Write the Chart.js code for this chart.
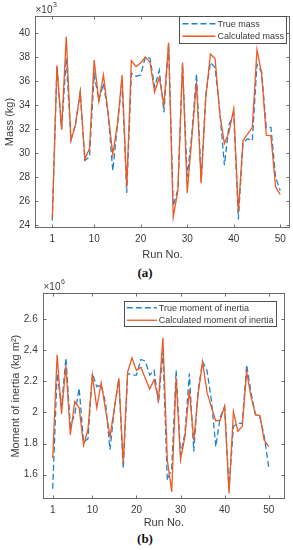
<!DOCTYPE html>
<html>
<head>
<meta charset="utf-8">
<script src="https://cdn.jsdelivr.net/npm/chart.js@4/dist/chart.umd.min.js"></script>
<style>
html, body { margin: 0; padding: 0; background: #fff; }
body { width: 293px; height: 550px; position: relative; overflow: hidden; }
.wrap { position: absolute; left: 0; width: 293px; }
.cap { position: absolute; left: 0; width: 290px; text-align: center; font: bold 13px "Liberation Serif", "Times New Roman", serif; color: #111; line-height: 15px; }
</style>
</head>
<body>
<div class="wrap" style="top:0;height:262px"><canvas id="massChart"></canvas></div>
<div class="cap" style="top:265px">(a)</div>
<div class="wrap" style="top:278px;height:252px"><canvas id="inertiaChart"></canvas></div>
<div class="cap" style="top:531px">(b)</div>
<script>
// Run numbers (x axis)
const runs = [1, 2, 3, 4, 5, 6, 7, 8, 9, 10, 11, 12, 13, 14, 15, 16, 17, 18, 19, 20,
    21, 22, 23, 24, 25, 26, 27, 28, 29, 30, 31, 32, 33, 34, 35, 36, 37, 38, 39, 40,
    41, 42, 43, 44, 45, 46, 47, 48, 49, 50];

// Mass, x10^3 kg
const trueMass = [24.4, 37.2, 32.0, 37.9, 31.1, 32.4, 35.1, 29.4, 29.7, 36.6,
    34.4, 35.8, 33.3, 28.55, 32.3, 36.0, 26.7, 36.65, 36.4, 36.5,
    38.0, 37.9, 35.5, 36.9, 33.4, 39.1, 25.6, 27.0, 37.4, 28.0,
    31.6, 36.6, 27.7, 34.9, 37.55, 37.1, 33.5, 29.0, 32.4, 33.3,
    24.5, 30.9, 31.2, 31.05, 37.4, 36.75, 32.15, 32.15, 28.0, 26.9];
const calcMass = [24.6, 37.3, 31.96, 39.7, 31.05, 32.4, 35.1, 29.5, 30.4, 37.75,
    34.3, 36.5, 33.3, 29.9, 32.4, 36.5, 27.2, 37.7, 37.2, 37.5,
    38.0, 37.55, 35.1, 36.3, 34.0, 39.2, 24.7, 26.9, 37.55, 26.7,
    31.3, 35.9, 27.5, 34.65, 38.25, 37.85, 33.3, 30.8, 31.75, 33.7,
    25.1, 31.05, 31.6, 32.15, 38.6, 36.6, 31.5, 31.45, 27.2, 26.55];

// Moment of inertia, x10^6 kg m^2
const trueInertia = [1.51, 2.25, 2.04, 2.35, 1.91, 1.99, 2.155, 1.81, 1.83, 2.25,
    2.165, 2.175, 2.06, 1.76, 2.03, 2.21, 1.64, 2.25, 2.24, 2.24,
    2.34, 2.33, 2.24, 2.27, 2.06, 2.39, 1.565, 1.64, 2.27, 1.73,
    1.865, 2.25, 1.75, 2.145, 2.325, 2.27, 2.08, 1.78, 1.97, 2.035,
    1.51, 1.91, 1.93, 1.93, 2.305, 2.125, 1.985, 1.97, 1.845, 1.65];
const calcInertia = [1.705, 2.37, 1.99, 2.30, 1.855, 2.07, 2.03, 1.79, 1.89, 2.24,
    2.03, 2.19, 2.015, 1.845, 2.03, 2.22, 1.675, 2.26, 2.35, 2.27,
    2.29, 2.22, 2.15, 2.21, 2.08, 2.48, 1.695, 1.49, 2.22, 1.695,
    1.845, 2.145, 1.82, 2.12, 2.325, 2.13, 2.035, 1.945, 1.95, 2.04,
    1.48, 2.005, 1.88, 1.91, 2.26, 2.10, 1.985, 1.98, 1.82, 1.78];

// Tick labels
const runTicks = [1, 10, 20, 30, 40, 50];
const massTicks = [24, 26, 28, 30, 32, 34, 36, 38, 40];
const inertiaTicks = [1.6, 1.8, 2, 2.2, 2.4, 2.6];

const BLUE = '#1f82d0';
const ORANGE = '#ee5a24';
const TEXT = '#3a3a3a';
const AXIS = '#6a6a6a';
const FONT = '"Liberation Sans", Arial, Helvetica, sans-serif';

Chart.defaults.font.family = FONT;
Chart.defaults.color = TEXT;

function toPoints(values) {
    return runs.map((r, i) => ({ x: r, y: values[i] }));
}

// Caixa dos eixos, ticks internos, expoente e legenda (estilo MATLAB)
const matlabAxes = {
    id: 'matlabAxes',
    afterDraw(chart, args, opts) {
        const { ctx, chartArea: a, scales } = chart;
        const x = scales.x, y = scales.y;
        ctx.save();
        ctx.strokeStyle = AXIS;
        ctx.lineWidth = 1;
        const L = Math.round(a.left) + 0.5, R = Math.round(a.right) - 0.5;
        const T = Math.round(a.top) + 0.5, B = Math.round(a.bottom) - 0.5;
        ctx.strokeRect(L, T, R - L, B - T);

        // ticks para dentro
        ctx.beginPath();
        x.ticks.forEach(t => {
            const px = Math.round(x.getPixelForValue(t.value)) + 0.5;
            ctx.moveTo(px, B); ctx.lineTo(px, B - 3);
            ctx.moveTo(px, T); ctx.lineTo(px, T + 3);
        });
        y.ticks.forEach(t => {
            const py = Math.round(y.getPixelForValue(t.value)) + 0.5;
            ctx.moveTo(L, py); ctx.lineTo(L + 3, py);
            ctx.moveTo(R, py); ctx.lineTo(R - 3, py);
        });
        ctx.stroke();

        // expoente
        ctx.fillStyle = TEXT;
        ctx.textBaseline = 'middle';
        ctx.textAlign = 'left';
        ctx.font = '10px ' + FONT;
        ctx.fillText('\u00d710', L, a.top - 6);
        const w = ctx.measureText('\u00d710').width;
        ctx.font = '7px ' + FONT;
        ctx.fillText(opts.exponent, L + w + 0.5, a.top - 11);

        // legenda
        const lg = opts.legend;
        ctx.font = '9px ' + FONT;
        const items = [chart.data.datasets[1], chart.data.datasets[0]];
        const textW = Math.max(...items.map(d => ctx.measureText(d.label).width));
        const boxW = 3 + lg.line + 2 + textW + 3;
        const boxR = a.right - lg.right;
        const boxL = boxR - boxW;
        const boxT = a.top + lg.top;
        ctx.fillStyle = '#fff';
        ctx.fillRect(boxL, boxT, boxW, lg.height);
        ctx.strokeStyle = '#505050';
        ctx.strokeRect(Math.round(boxL) + 0.5, Math.round(boxT) + 0.5, Math.round(boxW) - 1, lg.height - 1);
        const rowH = 12.5;
        const firstY = boxT + (lg.height - rowH * items.length) / 2 + rowH / 2;
        items.forEach((d, i) => {
            const cy = firstY + i * rowH;
            ctx.strokeStyle = d.borderColor;
            ctx.lineWidth = 1.3;
            ctx.setLineDash(d.borderDash || []);
            ctx.beginPath();
            ctx.moveTo(boxL + 3, cy);
            ctx.lineTo(boxL + 3 + lg.line, cy);
            ctx.stroke();
            ctx.setLineDash([]);
            ctx.fillStyle = TEXT;
            ctx.fillText(d.label, boxL + 3 + lg.line + 2, cy + 0.5);
        });
        ctx.restore();
    }
};

function makeChart(id, cfg) {
    const tickFont = { size: 10 };
    return new Chart(document.getElementById(id), {
        type: 'line',
        data: {
            datasets: [
                {
                    label: cfg.calcLabel,
                    data: toPoints(cfg.calc),
                    borderColor: ORANGE,
                    borderWidth: 1.3,
                    pointRadius: 0,
                    tension: 0,
                    order: 0
                },
                {
                    label: cfg.trueLabel,
                    data: toPoints(cfg.truth),
                    borderColor: BLUE,
                    borderWidth: 1.3,
                    borderDash: [6, 3],
                    pointRadius: 0,
                    tension: 0,
                    order: 1
                }
            ]
        },
        options: {
            responsive: true,
            maintainAspectRatio: false,
            animation: false,
            events: [],
            layout: { padding: { top: cfg.padTop, right: cfg.padRight, left: 0, bottom: 0 } },
            plugins: {
                legend: { display: false },
                tooltip: { enabled: false },
                matlabAxes: { exponent: cfg.exponent, legend: cfg.legend }
            },
            scales: {
                x: {
                    type: 'linear',
                    min: cfg.xMin,
                    max: cfg.xMax,
                    grid: { display: false, drawTicks: false },
                    border: { display: false },
                    afterBuildTicks: s => { s.ticks = runTicks.map(v => ({ value: v })); },
                    afterFit: s => { s.height = cfg.xHeight; },
                    ticks: { font: tickFont, color: TEXT, padding: 5, maxRotation: 0, autoSkip: false, callback: v => String(v) },
                    title: { display: true, text: 'Run No.', color: TEXT, font: { size: 11 }, padding: 0 }
                },
                y: {
                    min: cfg.yMin,
                    max: cfg.yMax,
                    grid: { display: false, drawTicks: false },
                    border: { display: false },
                    afterBuildTicks: s => { s.ticks = cfg.yTicks.map(v => ({ value: v })); },
                    afterFit: s => { s.width = cfg.yWidth; },
                    ticks: { font: tickFont, color: TEXT, padding: 5, callback: v => String(v) },
                    title: { display: true, text: cfg.yTitle, color: TEXT, font: { size: 11 }, padding: { top: cfg.yTitlePad, bottom: 0 } }
                }
            }
        },
        plugins: [matlabAxes]
    });
}

// (a) massa
makeChart('massChart', {
    truth: trueMass, calc: calcMass,
    trueLabel: 'True mass', calcLabel: 'Calculated mass',
    xMin: -2.72, xMax: 52.1, yMin: 23.78, yMax: 41.41,
    yTicks: massTicks, yTitle: 'Mass (kg)', yTitlePad: 3.4,
    padTop: 16, padRight: 3, xHeight: 34, yWidth: 35,
    exponent: '3',
    legend: { right: 3, top: 0, height: 28, line: 33 }
});

// (b) momento de inércia
makeChart('inertiaChart', {
    truth: trueInertia, calc: calcInertia,
    trueLabel: 'True moment of inertia', calcLabel: 'Calculated moment of inertia',
    xMin: -1.27, xMax: 53.7, yMin: 1.444, yMax: 2.765,
    yTicks: inertiaTicks, yTitle: 'Moment of inertia (kg m\u00b2)', yTitlePad: 9,
    padTop: 15.3, padRight: 8, xHeight: 31, yWidth: 42.7,
    exponent: '6',
    legend: { right: 8.6, top: 7.7, height: 26, line: 30 }
});
</script>
</body>
</html>
